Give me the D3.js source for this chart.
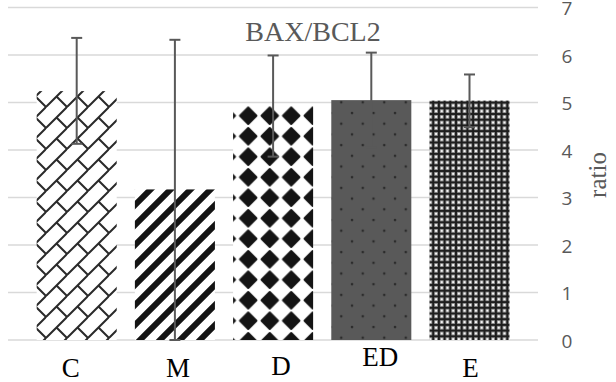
<!DOCTYPE html>
<html>
<head>
<meta charset="utf-8">
<script src="https://cdn.jsdelivr.net/npm/d3@7"></script>
<style>
  html, body { margin: 0; padding: 0; background: #fff; }
  svg { display: block; }
</style>
</head>
<body>
<div id="chart"></div>
<script>
const categories = ['C', 'M', 'D', 'ED', 'E'];
const ratio = [5.24, 3.17, 4.93, 5.05, 5.04];
const errUp = [1.12, 3.15, 1.06, 1.0, 0.55];
const errDown = [1.11, 3.17, 1.07, 1.0, 0.56];
const yTicks = [0, 1, 2, 3, 4, 5, 6, 7];
const patterns = ['brick', 'stripe', 'diamond', 'dots', 'grid'];

const width = 616, height = 382;
const grey = '#595959';

const svg = d3.select('#chart').append('svg')
  .attr('width', width)
  .attr('height', height);

const defs = svg.append('defs');

// diagonal brick
const pb = defs.append('pattern').attr('id', 'brick')
  .attr('patternUnits', 'userSpaceOnUse').attr('width', 21).attr('height', 21)
  .attr('x', 4).attr('y', 2);
pb.append('rect').attr('width', 21).attr('height', 21).attr('fill', '#fff');
pb.append('path')
  .attr('d', 'M-2,23 L23,-2 M10.5,10.5 L22,22 M-1,-1 L0.6,0.6')
  .attr('stroke', '#2a2a2a').attr('stroke-width', 2).attr('fill', 'none');

// wide upward diagonal
const ps = defs.append('pattern').attr('id', 'stripe')
  .attr('patternUnits', 'userSpaceOnUse').attr('width', 20).attr('height', 20);
ps.append('rect').attr('width', 20).attr('height', 20).attr('fill', '#fff');
ps.append('path')
  .attr('d', 'M-5,25 L25,-5 M-5,5 L5,-5 M15,25 L25,15')
  .attr('stroke', '#141414').attr('stroke-width', 6).attr('fill', 'none');

// solid diamond
const pd = defs.append('pattern').attr('id', 'diamond')
  .attr('patternUnits', 'userSpaceOnUse').attr('width', 21.5).attr('height', 20.5)
  .attr('x', 1).attr('y', 3);
pd.append('rect').attr('width', 21.5).attr('height', 20.5).attr('fill', '#fff');
pd.append('path')
  .attr('d', 'M10.75,2 L19,10.25 L10.75,18.5 L2.5,10.25 Z')
  .attr('fill', '#141414').attr('stroke', '#141414')
  .attr('stroke-width', 2).attr('stroke-linejoin', 'round');

// dotted dark
const pt = defs.append('pattern').attr('id', 'dots')
  .attr('patternUnits', 'userSpaceOnUse').attr('width', 21.5).attr('height', 21.4)
  .attr('x', 6).attr('y', 4);
pt.append('rect').attr('width', 21.5).attr('height', 21.4).attr('fill', '#595959');
pt.append('circle').attr('cx', 2).attr('cy', 2).attr('r', 1.3).attr('fill', '#2b2b2b');
pt.append('circle').attr('cx', 12.75).attr('cy', 12.7).attr('r', 1.3).attr('fill', '#2b2b2b');

// dotted grid
const pg = defs.append('pattern').attr('id', 'grid')
  .attr('patternUnits', 'userSpaceOnUse').attr('width', 5.7).attr('height', 5.7);
pg.append('rect').attr('width', 5.7).attr('height', 5.7).attr('fill', '#1e1e1e');
pg.append('rect').attr('x', 1).attr('y', 1).attr('width', 3.7).attr('height', 3.7).attr('fill', '#8c8c8c');
pg.append('rect').attr('x', 1.8).attr('y', 1.8).attr('width', 2.1).attr('height', 2.1).attr('fill', '#f5f5f5');

const x = d3.scaleBand()
  .domain(categories)
  .range([27.6, 518.6])
  .paddingInner(0.185)
  .paddingOuter(0.0925);

const y = d3.scaleLinear()
  .domain([0, 7])
  .range([340, 7.5]);

// gridlines
svg.append('g')
  .selectAll('line')
  .data(yTicks)
  .enter()
  .append('line')
  .attr('x1', 8)
  .attr('x2', 538)
  .attr('y1', d => y(d))
  .attr('y2', d => y(d))
  .attr('stroke', '#d9d9d9')
  .attr('stroke-width', 1.3);

// right axis labels
const yAxis = svg.append('g')
  .attr('transform', 'translate(567,1)')
  .call(d3.axisRight(y).tickValues(yTicks).tickFormat(d3.format('d')).tickSize(0).tickPadding(0));
yAxis.select('.domain').remove();
yAxis.selectAll('text')
  .attr('text-anchor', 'middle')
  .attr('x', 0)
  .attr('fill', grey)
  .attr('font-family', '"Open Sans", sans-serif')
  .attr('font-size', '19px');

// bars
svg.append('g')
  .selectAll('rect')
  .data(categories)
  .enter()
  .append('rect')
  .attr('x', d => x(d))
  .attr('width', x.bandwidth())
  .attr('y', (d, i) => y(ratio[i]))
  .attr('height', (d, i) => y(0) - y(ratio[i]))
  .attr('fill', (d, i) => `url(#${patterns[i]})`);

// error bars
const err = svg.append('g')
  .attr('stroke', grey)
  .attr('stroke-width', 2)
  .attr('fill', 'none');
categories.forEach((c, i) => {
  const cx = x(c) + x.bandwidth() / 2;
  const top = y(ratio[i] + errUp[i]);
  const bot = y(ratio[i] - errDown[i]);
  err.append('line').attr('x1', cx).attr('x2', cx).attr('y1', top).attr('y2', bot);
  err.append('line').attr('x1', cx - 5.5).attr('x2', cx + 5.5).attr('y1', top).attr('y2', top);
  err.append('line').attr('x1', cx - 5.5).attr('x2', cx + 5.5).attr('y1', bot).attr('y2', bot);
});

// category labels (small nudges as in the original layout)
const labelNudge = { C: [-6, 0], M: [3, 0], D: [8, -2], ED: [9, -11], E: [1, 0] };
svg.append('g')
  .selectAll('text')
  .data(categories)
  .enter()
  .append('text')
  .attr('x', d => x(d) + x.bandwidth() / 2 + labelNudge[d][0])
  .attr('y', d => 377 + labelNudge[d][1])
  .attr('text-anchor', 'middle')
  .attr('font-family', '"Liberation Serif", "Times New Roman", serif')
  .attr('font-size', '27px')
  .attr('fill', '#000')
  .text(d => d);

// title
svg.append('text')
  .attr('x', 313)
  .attr('y', 41)
  .attr('text-anchor', 'middle')
  .attr('font-family', '"Liberation Serif", "Times New Roman", serif')
  .attr('font-size', '28px')
  .attr('fill', grey)
  .text('BAX/BCL2');

// axis title
svg.append('text')
  .attr('transform', 'translate(606,175) rotate(-90)')
  .attr('text-anchor', 'middle')
  .attr('font-family', '"Liberation Serif", "Times New Roman", serif')
  .attr('font-size', '25px')
  .attr('fill', grey)
  .text('ratio');
</script>
</body>
</html>
